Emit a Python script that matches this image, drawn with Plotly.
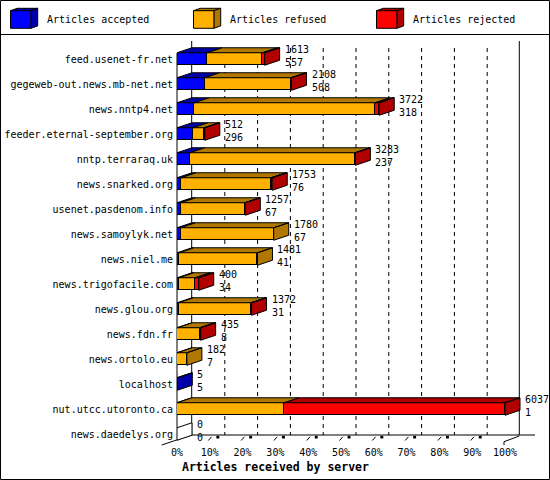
import plotly.graph_objects as go

# ---------------- data ----------------
hosts = [
    "feed.usenet-fr.net", "gegeweb-out.news.mb-net.net", "news.nntp4.net",
    "feeder.eternal-september.org", "nntp.terraraq.uk", "news.snarked.org",
    "usenet.pasdenom.info", "news.samoylyk.net", "news.niel.me",
    "news.trigofacile.com", "news.glou.org", "news.fdn.fr", "news.ortolo.eu",
    "localhost", "nut.utcc.utoronto.ca", "news.daedelys.org",
]
totals = [1613, 2108, 3722, 512, 3283, 1753, 1257, 1780, 1481, 400, 1372, 435, 182, 5, 6037, 0]
accepted = [557, 508, 318, 296, 237, 76, 67, 67, 41, 34, 31, 8, 7, 5, 1, 0]
refused = [1016, 1590, 3329, 200, 3041, 1655, 1180, 1713, 1440, 300, 1331, 410, 175, 0, 1975, 0]
rejected = [40, 10, 75, 16, 5, 22, 10, 0, 0, 66, 10, 17, 0, 0, 4061, 0]

series_names = ["Articles accepted", "Articles refused", "Articles rejected"]
front_colors = ["#0000FF", "#FFB000", "#FF0000"]
dark_colors = ["#0000AA", "#B07800", "#B00000"]

x_ticks = [0, 10, 20, 30, 40, 50, 60, 70, 80, 90, 100]
x_tick_labels = ["0%", "10%", "20%", "30%", "40%", "50%", "60%", "70%", "80%", "90%", "100%"]
x_title = "Articles received by server"

FONT = "DejaVu Sans Mono"

# ---------------- geometry ----------------
W, H = 550, 480
L, T = 177, 41
PLOT_R, PLOT_B = 521, 445
PX_PER_PCT = 3.28
ROW_PX = 25
FIRST_ROW_PX = 59
DEPTH_X = 15 / PX_PER_PCT
DEPTH_Y = 5 / ROW_PX
HALF = 0.25

n = len(hosts)
ypos = list(range(n))
x_range = [0, (PLOT_R - L) / PX_PER_PCT]
y_range = [(PLOT_B - FIRST_ROW_PX) / ROW_PX, -(FIRST_ROW_PX - T) / ROW_PX]

maxv = max(totals)


def pct(v):
    return v / maxv * 100.0


def pxx(px):
    return (px - L) / (PLOT_R - L)


def pxy(py):
    return (PLOT_B - py) / (PLOT_B - T)


series = [accepted, refused, rejected]

fig = go.Figure()

# front faces
for k, vals in enumerate(series):
    fig.add_trace(go.Bar(
        x=[pct(v) if v > 0 else None for v in vals],
        y=ypos,
        orientation="h",
        width=0.5,
        name=series_names[k],
        marker=dict(color=front_colors[k], line=dict(color="black", width=1)),
        showlegend=False,
        hoverinfo="skip",
    ))

# top and side faces (3D look)
polys = {k: ([], []) for k in range(3)}
empty = ([], [])
for i in range(n):
    start = 0.0
    last = None
    top = i - HALF
    bot = i + HALF
    for k, vals in enumerate(series):
        v = vals[i]
        if v <= 0:
            continue
        end = start + pct(v)
        xs, ys = polys[k]
        xs += [start, end, end + DEPTH_X, start + DEPTH_X, start, None]
        ys += [top, top, top - DEPTH_Y, top - DEPTH_Y, top, None]
        start = end
        last = k
    E = pct(totals[i])
    side_x = [E, E + DEPTH_X, E + DEPTH_X, E, E, None]
    side_y = [top, top - DEPTH_Y, bot - DEPTH_Y, bot, top, None]
    if last is None:
        empty[0].extend(side_x)
        empty[1].extend(side_y)
    else:
        polys[last][0].extend(side_x)
        polys[last][1].extend(side_y)

for k in range(3):
    xs, ys = polys[k]
    if xs:
        fig.add_trace(go.Scatter(
            x=xs, y=ys, mode="lines", fill="toself",
            fillcolor=dark_colors[k], line=dict(color="black", width=1),
            showlegend=False, hoverinfo="skip",
        ))
if empty[0]:
    fig.add_trace(go.Scatter(
        x=empty[0], y=empty[1], mode="lines", fill="toself",
        fillcolor="white", line=dict(color="black", width=1),
        showlegend=False, hoverinfo="skip",
    ))

# value labels
annotations = []
for i in range(n):
    annotations.append(dict(
        x=pct(totals[i]), y=i, xref="x", yref="y",
        text=f"{totals[i]}<br>{accepted[i]}",
        showarrow=False, xanchor="left", yanchor="middle", align="left",
        xshift=18, yshift=3,
        font=dict(family=FONT, size=10, color="black"),
    ))

# axis title
annotations.append(dict(
    x=pxx(180), y=pxy(466.5), xref="paper", yref="paper",
    text=x_title, showarrow=False, xanchor="left", yanchor="middle",
    font=dict(family=FONT, size=11.5, color="black", weight="bold"),
))

# ---------------- frame shapes ----------------
shapes = []
blk = dict(color="black", width=1)


def pline(x0, y0, x1, y1, **kw):
    d = dict(type="line", xref="paper", yref="paper",
             x0=pxx(x0), y0=pxy(y0), x1=pxx(x1), y1=pxy(y1), line=blk)
    d.update(kw)
    shapes.append(d)


# outer border and legend separator
shapes.append(dict(type="rect", xref="paper", yref="paper",
                   x0=pxx(0.5), x1=pxx(549.5), y0=pxy(479.5), y1=pxy(0.5),
                   line=blk, layer="below"))
pline(0, 34.5, 550, 34.5)

# back walls and floor
pline(191.7, 41, 191.7, 435, layer="below")
pline(519.3, 41, 519.3, 435, layer="below")
pline(191.7, 435, 535, 435, layer="below")
pline(161.7, 445, 191.7, 435, layer="below")
pline(504, 441.7, 519.3, 436, layer="below")
pline(177, 53, 177, 440, layer="below")
pline(504, 441.7, 504, 445, layer="below")

# dashed gridlines on back wall
for p in x_ticks[1:-1]:
    shapes.append(dict(type="line", xref="x", yref="paper",
                       x0=p + DEPTH_X, x1=p + DEPTH_X, y0=pxy(48), y1=pxy(435),
                       line=dict(color="black", width=1, dash="4px,4px"),
                       layer="below"))
    # small floor tick marks
    shapes.append(dict(type="line", xref="x", yref="paper",
                       x0=p - 0.45, x1=p + 0.55, y0=pxy(440.5), y1=pxy(436.8),
                       line=blk, layer="below"))
    shapes.append(dict(type="rect", xref="x", yref="paper",
                       x0=p + 2.0, x1=p + 2.9, y0=pxy(438.5), y1=pxy(435.8),
                       line=dict(width=0), fillcolor="black", layer="below"))

# legend (3D cubes + labels)
for k in range(3):
    x0 = 10.5 + k * 183
    x1 = x0 + 20.4
    y0, y1 = 10.7, 28.3
    dx, dy = 6.8, 2.4
    shapes.append(dict(type="path", xref="paper", yref="paper",
                       path=f"M{pxx(x0)},{pxy(y0)} L{pxx(x1)},{pxy(y0)} L{pxx(x1+dx)},{pxy(y0-dy)} L{pxx(x0+dx)},{pxy(y0-dy)} Z",
                       fillcolor=dark_colors[k], line=blk))
    shapes.append(dict(type="path", xref="paper", yref="paper",
                       path=f"M{pxx(x1)},{pxy(y0)} L{pxx(x1+dx)},{pxy(y0-dy)} L{pxx(x1+dx)},{pxy(y1-dy)} L{pxx(x1)},{pxy(y1)} Z",
                       fillcolor=dark_colors[k], line=blk))
    shapes.append(dict(type="rect", xref="paper", yref="paper",
                       x0=pxx(x0), x1=pxx(x1), y0=pxy(y1), y1=pxy(y0),
                       fillcolor=front_colors[k], line=blk))
    annotations.append(dict(
        x=pxx(x0 + 34), y=pxy(20), xref="paper", yref="paper",
        text=series_names[k], showarrow=False, xanchor="left", yanchor="middle",
        font=dict(family=FONT, size=10, color="black"),
    ))

fig.update_layout(
    width=W, height=H,
    margin=dict(l=L, r=W - PLOT_R, t=T, b=H - PLOT_B, pad=0, autoexpand=False),
    paper_bgcolor="white", plot_bgcolor="white",
    barmode="stack", bargap=0,
    showlegend=False,
    font=dict(family=FONT, size=10, color="black"),
    xaxis=dict(range=x_range, tickvals=x_ticks, ticktext=x_tick_labels,
               showgrid=False, zeroline=False, showline=False, ticks="",
               automargin=False,
               tickfont=dict(family=FONT, size=10, color="black"),
               fixedrange=True),
    yaxis=dict(range=y_range, tickvals=ypos, ticktext=hosts,
               showgrid=False, zeroline=False, showline=False, ticks="",
               ticklabelstandoff=3, automargin=False,
               tickfont=dict(family=FONT, size=10, color="black"),
               fixedrange=True),
    shapes=shapes,
    annotations=annotations,
)

fig.write_html(
    "out.html",
    config={"displayModeBar": False},
    post_script="document.body.style.margin='0';document.body.style.overflow='hidden';",
)
